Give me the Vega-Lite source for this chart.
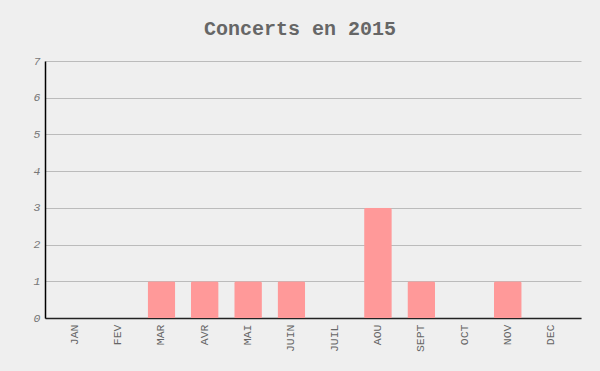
{
  "$schema": "https://vega.github.io/schema/vega-lite/v6.json",
  "autosize": "none",
  "width": 536,
  "height": 257,
  "padding": {"left": 45, "top": 61, "right": 19, "bottom": 53},
  "background": "#efefef",
  "title": {
    "text": "Concerts en 2015",
    "font": "Liberation Mono",
    "fontSize": 20,
    "fontWeight": "bold",
    "color": "#666666",
    "anchor": "middle",
    "dx": -13,
    "offset": 16
  },
  "config": {
    "view": {"stroke": null},
    "axis": {"labelFont": "Liberation Mono", "labelColor": "#666666"}
  },
  "data": {
    "values": [
      {"mois": "JAN", "concerts": 0},
      {"mois": "FEV", "concerts": 0},
      {"mois": "MAR", "concerts": 1},
      {"mois": "AVR", "concerts": 1},
      {"mois": "MAI", "concerts": 1},
      {"mois": "JUIN", "concerts": 1},
      {"mois": "JUIL", "concerts": 0},
      {"mois": "AOU", "concerts": 3},
      {"mois": "SEPT", "concerts": 1},
      {"mois": "OCT", "concerts": 0},
      {"mois": "NOV", "concerts": 1},
      {"mois": "DEC", "concerts": 0}
    ]
  },
  "mark": {"type": "bar", "color": "#ff9999", "cornerRadiusTopLeft": 2, "cornerRadiusTopRight": 2},
  "encoding": {
    "x": {
      "field": "mois",
      "type": "nominal",
      "sort": null,
      "scale": {"paddingInner": 0.36, "paddingOuter": 0.37},
      "axis": {
        "title": null,
        "labelAngle": -90,
        "labelFontSize": 11.5,
        "labelPadding": 6,
        "ticks": false,
        "domainColor": "#222222",
        "domainWidth": 1.5,
        "grid": false
      }
    },
    "y": {
      "field": "concerts",
      "type": "quantitative",
      "scale": {"domain": [0, 7], "nice": false},
      "axis": {
        "title": null,
        "values": [0, 1, 2, 3, 4, 5, 6, 7],
        "labelFontSize": 11.5,
        "labelFontStyle": "italic",
        "labelColor": "#777777",
        "labelPadding": 5,
        "ticks": false,
        "domainColor": "#000000",
        "domainWidth": 1.5,
        "gridColor": "#bbbbbb",
        "gridWidth": 1
      }
    }
  }
}
